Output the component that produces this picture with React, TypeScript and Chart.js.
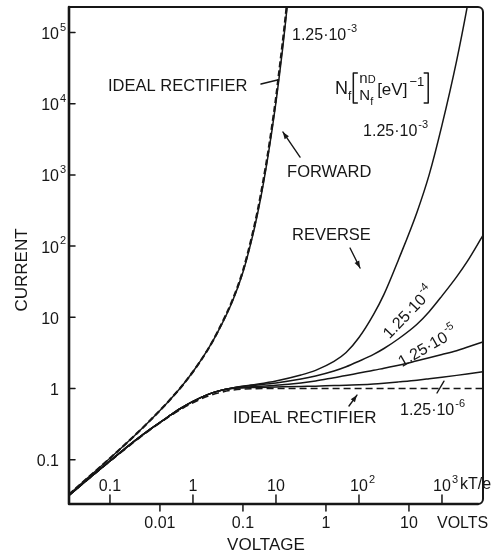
import React, { useEffect, useRef } from "react";
import { Chart, registerables } from "chart.js";

Chart.register(...registerables);

const FONT = '"Liberation Sans", Arial, Helvetica, sans-serif';
const INK = "#161616";

// Axis ranges: reduced voltage (kT/e) and reduced current
const X_MIN = 0.0321;
const X_MAX = 3120;
const Y_MIN = 0.0239;
const Y_MAX = 228000;
const VOLTS_PER_KTE = 0.025;

// Forward branch, sampled in kT/e
const fwdVoltage = [0.032, 0.05, 0.1, 0.2, 0.3, 0.5, 0.7, 1, 1.5, 2, 3, 4, 5, 6, 7, 8, 9, 10, 11, 12, 13, 14];
const idealForward = [0.0325, 0.0513, 0.105, 0.221, 0.35, 0.649, 1.01, 1.72, 3.48, 6.39, 17.6, 45, 120, 310, 800, 2000, 5000, 12000, 30000, 70000, 160000, 380000];
const forwardTrap3 = [0.0325, 0.0513, 0.105, 0.221, 0.35, 0.649, 1.01, 1.72, 3.48, 6.3, 17, 43, 112, 285, 720, 1800, 4400, 10500, 25000, 58000, 135000, 310000];

// Reverse branch, sampled in kT/e
const revVoltage = [0.032, 0.05, 0.1, 0.2, 0.3, 0.5, 0.7, 1, 1.5, 2, 3, 5, 10, 20, 30, 50, 70, 100, 150, 200, 300, 500, 700, 1000, 1500, 2000, 3100];
const idealReverse = [0.0315, 0.0488, 0.095, 0.181, 0.259, 0.393, 0.503, 0.632, 0.777, 0.865, 0.95, 0.993, 1, 1, 1, 1, 1, 1, 1, 1, 1, 1, 1, 1, 1, 1, 1];
const reverseTrap3 = [0.0315, 0.049, 0.096, 0.185, 0.265, 0.4, 0.52, 0.66, 0.82, 0.92, 1.02, 1.12, 1.28, 1.55, 1.8, 2.4, 3.2, 5.2, 11, 21, 65, 300, 1000, 5000, 40000, 220000, 4000000];
const reverseTrap4 = [0.0315, 0.049, 0.096, 0.185, 0.265, 0.4, 0.52, 0.66, 0.82, 0.92, 1.02, 1.1, 1.2, 1.36, 1.5, 1.76, 2.02, 2.42, 3.02, 3.65, 5, 8, 12, 20, 37, 60, 140];
const reverseTrap5 = [0.0315, 0.049, 0.096, 0.185, 0.265, 0.4, 0.52, 0.66, 0.82, 0.92, 1.02, 1.06, 1.11, 1.2, 1.28, 1.42, 1.52, 1.65, 1.8, 1.93, 2.12, 2.45, 2.7, 3.0, 3.4, 3.8, 4.5];
const reverseTrap6 = [0.0315, 0.049, 0.096, 0.185, 0.265, 0.4, 0.52, 0.66, 0.82, 0.92, 1.0, 1.03, 1.05, 1.07, 1.08, 1.1, 1.11, 1.13, 1.16, 1.19, 1.24, 1.31, 1.37, 1.44, 1.53, 1.6, 1.72];

// Tick labels
const currentTicks = [0.1, 1, 10, 100, 1000, 10000, 100000];
const currentTickBase = ["0.1", "1", "10", "10", "10", "10", "10"];
const currentTickExp = ["", "", "", "2", "3", "4", "5"];
const kteTicks = [0.1, 1, 10, 100, 1000];
const kteTickBase = ["0.1", "1", "10", "10", "10"];
const kteTickExp = ["", "", "", "2", "3"];
const voltTicks = [0.01, 0.1, 1, 10];
const voltTickLabels = ["0.01", "0.1", "1", "10"];

// Annotations placed in data coordinates (kT/e, current)
const captions = [
  { text: "IDEAL RECTIFIER", x: 0.0946, y: 17200, size: 16.5 },
  { text: "FORWARD", x: 13.6, y: 1100, size: 16.5 },
  { text: "REVERSE", x: 15.6, y: 139, size: 16.5 },
  { text: "IDEAL RECTIFIER", x: 3.03, y: 0.385, size: 17 },
];
const paramLabels = [
  { base: "1.25·10", exp: "-3", x: 15.6, y: 89300, angle: 0, align: "left" },
  { base: "1.25·10", exp: "-3", x: 112, y: 4010, angle: 0, align: "left" },
  { base: "1.25·10", exp: "-4", x: 400, y: 11.5, angle: -46, align: "center" },
  { base: "1.25·10", exp: "-5", x: 678, y: 3.8, angle: -30, align: "center" },
  { base: "1.25·10", exp: "-6", x: 312, y: 0.483, angle: 0, align: "left" },
];
const pointers = [
  { from: [6.6, 18900], to: [10.4, 21500], head: false },
  { from: [19.5, 1780], to: [12.1, 4010], head: true },
  { from: [78, 94], to: [103, 49.2], head: true },
  { from: [75.8, 0.568], to: [94.6, 0.81], head: true },
  { from: [871, 0.865], to: [1057, 1.27], head: false },
];
const formulaAnchor = { x: 51.4, y: 16600 };

const pts = (xs: number[], ys: number[]) => xs.map((x, i) => ({ x, y: ys[i] }));

type Align = "left" | "right" | "center" | "baseRight" | "baseCenter";

function supText(
  ctx: CanvasRenderingContext2D,
  base: string,
  exp: string,
  x: number,
  y: number,
  align: Align,
  baseSize = 16,
  supSize = 11
) {
  ctx.font = `${baseSize}px ${FONT}`;
  const bw = ctx.measureText(base).width;
  ctx.font = `${supSize}px ${FONT}`;
  const sw = exp ? ctx.measureText(exp).width + 1 : 0;
  let left = x;
  if (align === "right") left = x - bw - sw;
  else if (align === "center") left = x - (bw + sw) / 2;
  else if (align === "baseRight") left = x - bw;
  else if (align === "baseCenter") left = x - bw / 2;
  ctx.textAlign = "left";
  ctx.textBaseline = "middle";
  ctx.font = `${baseSize}px ${FONT}`;
  ctx.fillText(base, left, y);
  if (exp) {
    ctx.font = `${supSize}px ${FONT}`;
    ctx.fillText(exp, left + bw + 1, y - baseSize * 0.42);
  }
}

function drawPointer(ctx: CanvasRenderingContext2D, x1: number, y1: number, x2: number, y2: number, head: boolean) {
  ctx.beginPath();
  ctx.moveTo(x1, y1);
  ctx.lineTo(x2, y2);
  ctx.stroke();
  if (head) {
    const a = Math.atan2(y2 - y1, x2 - x1);
    const L = 7;
    const W = 2.6;
    ctx.beginPath();
    ctx.moveTo(x2, y2);
    ctx.lineTo(x2 - L * Math.cos(a) + W * Math.sin(a), y2 - L * Math.sin(a) - W * Math.cos(a));
    ctx.lineTo(x2 - L * Math.cos(a) - W * Math.sin(a), y2 - L * Math.sin(a) + W * Math.cos(a));
    ctx.closePath();
    ctx.fill();
  }
}

function bracket(ctx: CanvasRenderingContext2D, x: number, top: number, bottom: number, dir: 1 | -1) {
  ctx.beginPath();
  ctx.moveTo(x + 4 * dir, top);
  ctx.lineTo(x, top);
  ctx.lineTo(x, bottom);
  ctx.lineTo(x + 4 * dir, bottom);
  ctx.stroke();
}

function drawFormula(ctx: CanvasRenderingContext2D, x0: number, ym: number) {
  ctx.textAlign = "left";
  ctx.textBaseline = "alphabetic";
  let x = x0;
  ctx.font = `18px ${FONT}`;
  ctx.fillText("N", x, ym + 6);
  x += ctx.measureText("N").width;
  ctx.font = `12px ${FONT}`;
  ctx.fillText("f", x, ym + 12);
  x += ctx.measureText("f").width + 2;
  ctx.lineWidth = 1.5;
  bracket(ctx, x, ym - 15, ym + 15, 1);
  x += 6;
  // stacked n_D over N_f
  ctx.font = `15px ${FONT}`;
  ctx.fillText("n", x, ym - 5);
  const nw = ctx.measureText("n").width;
  ctx.font = `11px ${FONT}`;
  ctx.fillText("D", x + nw, ym - 5);
  ctx.font = `15px ${FONT}`;
  ctx.fillText("N", x, ym + 12);
  const Nw = ctx.measureText("N").width;
  ctx.font = `11px ${FONT}`;
  ctx.fillText("f", x + Nw, ym + 17);
  x += Nw + 7;
  ctx.font = `17px ${FONT}`;
  ctx.fillText("[eV]", x, ym + 7);
  x += ctx.measureText("[eV]").width + 2;
  ctx.font = `13px ${FONT}`;
  ctx.fillText("\u22121", x, ym - 2);
  x += ctx.measureText("\u22121").width + 4;
  bracket(ctx, x, ym - 15, ym + 15, -1);
}

const axesPlugin = {
  id: "paperAxes",
  afterDatasetsDraw(chart: any) {
    const { ctx, chartArea: a, scales } = chart;
    const sx = scales.x;
    const sy = scales.y;
    const sv = scales.xv;
    const px = (v: number) => sx.getPixelForValue(v);
    const py = (v: number) => sy.getPixelForValue(v);
    ctx.save();
    ctx.strokeStyle = INK;
    ctx.fillStyle = INK;
    ctx.lineCap = "round";
    ctx.lineJoin = "round";

    // frame with rounded right-hand corners
    const r = 5;
    ctx.lineWidth = 2;
    ctx.beginPath();
    ctx.moveTo(a.left, a.bottom);
    ctx.lineTo(a.left, a.top);
    ctx.lineTo(a.right - r, a.top);
    ctx.arcTo(a.right, a.top, a.right, a.top + r, r);
    ctx.lineTo(a.right, a.bottom - r);
    ctx.arcTo(a.right, a.bottom, a.right - r, a.bottom, r);
    ctx.closePath();
    ctx.stroke();
    ctx.lineWidth = 2.6;
    ctx.beginPath();
    ctx.moveTo(a.left, a.top);
    ctx.lineTo(a.left, a.bottom);
    ctx.lineTo(a.right - r, a.bottom);
    ctx.stroke();

    // current axis ticks and labels
    ctx.lineWidth = 1.5;
    currentTicks.forEach((v, i) => {
      const y = py(v);
      ctx.beginPath();
      ctx.moveTo(a.left, y);
      ctx.lineTo(a.left + 6, y);
      ctx.stroke();
      supText(ctx, currentTickBase[i], currentTickExp[i], a.left - 10, y + 2, "baseRight", 16, 11);
    });

    // kT/e ticks (inside) and labels
    kteTicks.forEach((v, i) => {
      const x = px(v);
      ctx.beginPath();
      ctx.moveTo(x, a.bottom);
      ctx.lineTo(x, a.bottom - 9);
      ctx.stroke();
      supText(ctx, kteTickBase[i], kteTickExp[i], x, a.bottom - 17, "baseCenter", 16, 11);
    });
    supText(ctx, "kT/e", "", a.right - 23, a.bottom - 19, "left", 16, 11);

    // volt ticks (outside) and labels
    voltTicks.forEach((v, i) => {
      const x = sv.getPixelForValue(v);
      ctx.beginPath();
      ctx.moveTo(x, a.bottom);
      ctx.lineTo(x, a.bottom + 7);
      ctx.stroke();
      supText(ctx, voltTickLabels[i], "", x, a.bottom + 20, "center", 16, 11);
    });
    supText(ctx, "VOLTS", "", a.right - 46, a.bottom + 20, "left", 16, 11);

    // axis titles
    ctx.font = `17px ${FONT}`;
    ctx.textAlign = "center";
    ctx.textBaseline = "middle";
    ctx.fillText("VOLTAGE", a.left + 197, a.bottom + 41);
    ctx.save();
    ctx.translate(a.left - 47, a.top + 263);
    ctx.rotate(-Math.PI / 2);
    ctx.fillText("CURRENT", 0, 0);
    ctx.restore();

    // captions
    captions.forEach((c) => {
      ctx.font = `${c.size}px ${FONT}`;
      ctx.textAlign = "left";
      ctx.textBaseline = "middle";
      ctx.fillText(c.text, px(c.x), py(c.y));
    });

    // trap-density labels
    paramLabels.forEach((p) => {
      ctx.save();
      ctx.translate(px(p.x), py(p.y));
      ctx.rotate((p.angle * Math.PI) / 180);
      supText(ctx, p.base, p.exp, 0, 0, p.align as Align, 16, 11);
      ctx.restore();
    });

    // leader lines and arrows
    ctx.lineWidth = 1.4;
    pointers.forEach((p) => {
      drawPointer(ctx, px(p.from[0]), py(p.from[1]), px(p.to[0]), py(p.to[1]), p.head);
    });

    drawFormula(ctx, px(formulaAnchor.x), py(formulaAnchor.y));
    ctx.restore();
  },
};

export default function App() {
  const canvasRef = useRef<HTMLCanvasElement | null>(null);

  useEffect(() => {
    document.body.style.margin = "0";
    const canvas = canvasRef.current;
    if (!canvas) return;

    const dashed = (data: { x: number; y: number }[], width: number, dash: number[]) => ({
      data,
      borderColor: INK,
      borderWidth: width,
      borderDash: dash,
      pointRadius: 0,
      fill: false,
    });
    const solid = (data: { x: number; y: number }[]) => ({
      data,
      borderColor: INK,
      borderWidth: 1.5,
      pointRadius: 0,
      fill: false,
    });

    const chart = new Chart(canvas, {
      type: "line",
      data: {
        datasets: [
          dashed(pts(fwdVoltage, idealForward), 2.2, [6, 3]),
          dashed(pts(revVoltage, idealReverse), 1.6, [7, 4]),
          solid(pts(fwdVoltage, forwardTrap3)),
          solid(pts(revVoltage, reverseTrap3)),
          solid(pts(revVoltage, reverseTrap4)),
          solid(pts(revVoltage, reverseTrap5)),
          solid(pts(revVoltage, reverseTrap6)),
        ] as any,
      },
      options: {
        responsive: false,
        animation: false,
        devicePixelRatio: 1,
        events: [],
        layout: { padding: { left: 69, top: 7, right: 8, bottom: 52 } },
        plugins: { legend: { display: false }, tooltip: { enabled: false } },
        elements: { point: { radius: 0 }, line: { cubicInterpolationMode: "monotone" } },
        scales: {
          x: { type: "logarithmic", min: X_MIN, max: X_MAX, display: false },
          xv: {
            type: "logarithmic",
            axis: "x",
            min: X_MIN * VOLTS_PER_KTE,
            max: X_MAX * VOLTS_PER_KTE,
            display: false,
          },
          y: { type: "logarithmic", min: Y_MIN, max: Y_MAX, display: false },
        },
      } as any,
      plugins: [axesPlugin],
    });

    return () => chart.destroy();
  }, []);

  return <canvas ref={canvasRef} width={491} height={556} style={{ display: "block", background: "#fff" }} />;
}
